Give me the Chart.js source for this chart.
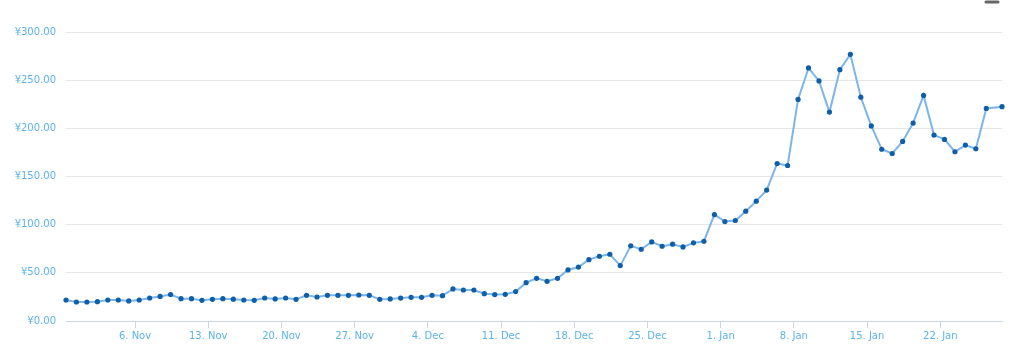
<!DOCTYPE html>
<html>
<head>
<meta charset="utf-8">
<script src="https://cdn.jsdelivr.net/npm/chart.js@4/dist/chart.umd.min.js"></script>
<style>
  html, body { margin: 0; padding: 0; background: #fff; }
  #grafico { display: block; }
</style>
</head>
<body>
<canvas id="grafico" width="1024" height="360"></canvas>
<script>
// precio diario (yenes), desde el 30 oct, un punto por dia
var precios = [
  21.8, 19.7, 19.7, 20.1, 21.8, 21.8, 20.8, 21.8, 23.9, 25.5,
  27.5, 23.2, 23.2, 21.5, 22.5, 23.2, 22.7, 21.8, 21.5, 23.9,
  22.9, 23.9, 22.5, 26.7, 24.9, 26.7, 26.7, 26.7, 27.0, 26.7,
  22.5, 22.9, 23.8, 24.6, 24.6, 26.7, 26.3, 33.3, 32.2, 32.2,
  28.4, 27.4, 27.7, 30.5, 39.8, 44.3, 41.2, 44.3, 53.0, 56.0,
  63.7, 67.2, 69.3, 57.5, 78.0, 74.5, 82.1, 77.6, 79.7, 76.9,
  81.1, 82.8, 110.5, 103.2, 104.3, 114.0, 124.4, 135.9, 163.5, 161.4,
  230.0, 262.7, 249.2, 216.9, 260.9, 276.8, 232.3, 202.5, 178.3, 173.9,
  186.4, 205.5, 234.2, 193.0, 188.5, 175.7, 182.6, 178.8, 220.7
];
// ultimo punto (hora actual, no es dia completo)
var ultimoDia = 89.9;
var ultimoPrecio = 222.5;

// dias contados desde el 30 oct
var diasTicks = [7, 14, 21, 28, 35, 42, 49, 56, 63, 70, 77, 84];
var etiquetasX = ['6. Nov', '13. Nov', '20. Nov', '27. Nov', '4. Dec', '11. Dec',
  '18. Dec', '25. Dec', '1. Jan', '8. Jan', '15. Jan', '22. Jan'];
var valoresY = [0, 50, 100, 150, 200, 250, 300];

var puntos = [];
precios.forEach(function (p, i) {
    puntos.push({ x: i + 0.4, y: p });
});
puntos.push({ x: ultimoDia, y: ultimoPrecio });

var colorTexto = '#5ab4ea';
var fuente = { family: 'DejaVu Sans', size: 10 };

// icono de menu cortado arriba a la derecha
var iconoMenu = {
    id: 'iconoMenu',
    afterDraw: function (chart) {
        var ctx = chart.ctx;
        ctx.save();
        ctx.strokeStyle = '#666';
        ctx.lineWidth = 3;
        ctx.lineCap = 'round';
        ctx.beginPath();
        ctx.moveTo(986, 2);
        ctx.lineTo(998, 2);
        ctx.stroke();
        ctx.restore();
    }
};

new Chart(document.getElementById('grafico'), {
    type: 'line',
    data: {
        datasets: [{
            data: puntos,
            borderColor: '#7cb5ec',
            borderWidth: 2,
            pointBackgroundColor: '#0f5fa8',
            pointBorderColor: '#0f5fa8',
            pointRadius: 2.6,
            pointBorderWidth: 0,
            tension: 0,
            clip: false
        }]
    },
    options: {
        responsive: false,
        animation: false,
        devicePixelRatio: 1,
        layout: { padding: { left: 0, right: 22, top: 32, bottom: 0 } },
        plugins: { legend: { display: false }, tooltip: { enabled: false } },
        scales: {
            x: {
                type: 'linear',
                min: 0.4,
                max: ultimoDia,
                afterBuildTicks: function (eje) {
                    eje.ticks = diasTicks.map(function (d) { return { value: d }; });
                },
                afterFit: function (eje) { eje.height = 39; },
                grid: { drawOnChartArea: false, drawTicks: true, tickLength: 7, color: '#ccd6eb' },
                border: { color: '#ccd6eb', width: 1 },
                ticks: {
                    autoSkip: false,
                    maxRotation: 0,
                    padding: 2,
                    color: colorTexto,
                    font: fuente,
                    callback: function (v) {
                        var k = diasTicks.indexOf(v);
                        return k >= 0 ? etiquetasX[k] : '';
                    }
                }
            },
            y: {
                min: 0,
                max: 300,
                afterBuildTicks: function (eje) {
                    eje.ticks = valoresY.map(function (v) { return { value: v }; });
                },
                afterFit: function (eje) { eje.width = 66; },
                grid: { color: '#e6e6e6', drawTicks: false },
                border: { display: false },
                ticks: {
                    padding: 10,
                    color: colorTexto,
                    font: fuente,
                    callback: function (v) { return '¥' + v.toFixed(2); }
                }
            }
        }
    },
    plugins: [iconoMenu]
});
</script>
</body>
</html>
